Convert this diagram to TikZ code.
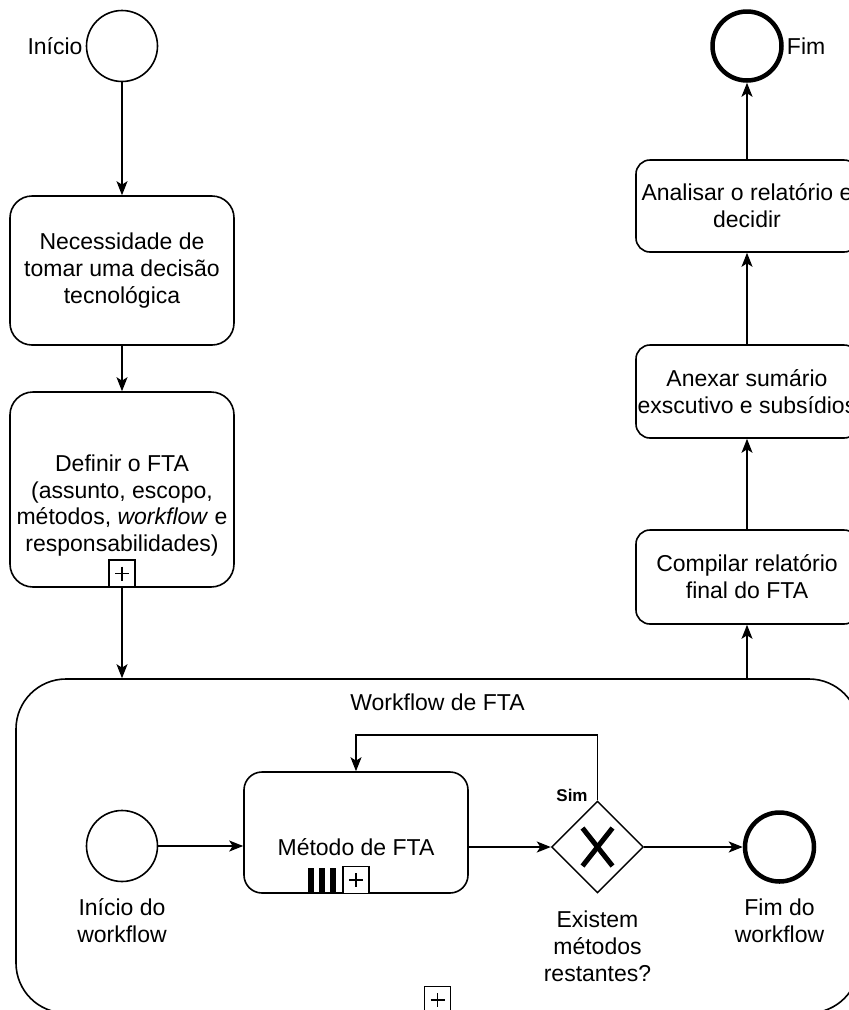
\documentclass[tikz,border=0pt]{standalone}
\usepackage{fontspec}
\setmainfont{Liberation Sans}
\usetikzlibrary{arrows.meta,shapes.geometric}

\begin{document}
\begin{tikzpicture}[x=1pt,y=-1pt,
  every node/.style={font=\fontsize{23}{26.8}\selectfont, align=center, inner sep=0pt},
  txt/.style={},
  task/.style={draw, line width=1.6pt, fill=white},
  startev/.style={draw, circle, line width=1.6pt, minimum size=71pt, fill=white},
  endev/.style={draw, circle, line width=4.5pt, minimum size=69pt, fill=white},
  plusbox/.style={draw, line width=1.4pt, minimum width=26pt, minimum height=27pt, fill=white,
    path picture={\draw[line width=1.4pt] (path picture bounding box.center) +(-7,0) -- +(7,0)
      (path picture bounding box.center) +(0,-7) -- +(0,7);}},
  bar/.style={fill=black, minimum width=6pt, minimum height=25pt},
  arr/.style={line width=1.8pt, -{Stealth[length=14pt,width=11pt,inset=3.5pt]}},
  flow/.style={line width=1.8pt}
]
\useasboundingbox (0,0) rectangle (849,1010);
\clip (0,0) rectangle (849,1010);

% outer process: start, preparation tasks
\node[startev] (start) at (122,46) {};
\node[anchor=east] (startlbl) at ([xshift=-3pt]start.west) {Início};

\node[task, rounded corners=22pt, minimum width=224pt, minimum height=149pt] (need) at (122,270.5)
  {Necessidade de\\tomar uma decisão\\tecnológica};

\node[task, rounded corners=23pt, minimum width=224pt, minimum height=195pt] (def) at (122,489.5) {};
\node[txt] (deflbl) at (122,505.5)
  {Definir o FTA\\(assunto, escopo,\\métodos, \textit{workflow} e\\responsabilidades)};
\node[plusbox] (defplus) at (122,573.5) {};

% collapsed workflow sub-process
\node[task, rounded corners=50pt, minimum width=843pt, minimum height=334pt] (wf) at (437.5,846) {};
\node[txt] (wflbl) at (437.5,702) {Workflow de FTA};
\node[plusbox] (wfplus) at (437.5,1000) {};

% inner workflow
\node[startev] (wstart) at (122,846) {};
\node[txt] (wstartlbl) at (122,921) {Início do\\workflow};

\node[task, rounded corners=18pt, minimum width=224pt, minimum height=121pt] (metodo) at (356,832.5) {};
\node[txt] (metodolbl) at (356,847) {Método de FTA};
\node[bar] (bar1) at (311,880.5) {};
\node[bar] (bar2) at (322,880.5) {};
\node[bar] (bar3) at (333,880.5) {};
\node[plusbox] (metplus) at (356,880) {};

\node[draw, diamond, aspect=1, line width=1.4pt, minimum width=92pt, minimum height=92pt, fill=white] (gw) at (597.5,847) {};
\draw[line width=5pt] (gw.center) +(-15,-19) -- +(15,19);
\draw[line width=5pt] (gw.center) +(15,-19) -- +(-15,19);
\node[font=\fontsize{17}{20}\selectfont\bfseries] (simlbl) at (572,795) {Sim};
\node[txt] (gwlbl) at (597.5,946) {Existem\\métodos\\restantes?};

\node[endev] (wend) at (779.5,847) {};
\node[txt] (wendlbl) at (779.5,921) {Fim do\\workflow};

% closing tasks
\node[task, rounded corners=14pt, minimum width=222pt, minimum height=94pt] (comp) at (747,577)
  {Compilar relatório\\final do FTA};
\node[task, rounded corners=14pt, minimum width=222pt, minimum height=93pt] (anx) at (747,391.5)
  {Anexar sumário\\exscutivo e subsídios};
\node[task, rounded corners=14pt, minimum width=222pt, minimum height=92pt] (ana) at (747,206)
  {Analisar o relatório e\\decidir};

\node[endev] (end) at (747,46) {};
\node[anchor=west] (endlbl) at ([xshift=3pt]end.east) {Fim};

% sequence flows
\draw[arr] (start) -- (need);
\draw[arr] (need) -- (def);
\draw[arr] (def.south) -- (def.south |- wf.north);
\draw[arr] (wf.north -| comp) -- (comp.south);
\draw[arr] (comp) -- (anx);
\draw[arr] (anx) -- (ana);
\draw[arr] (ana) -- (end);

\draw[arr] (wstart.east) -- (wstart.east -| metodo.west);
\draw[arr] (gw.west -| metodo.east) -- (gw.west);
\draw[arr] (gw.east) -- (wend.west);
\coordinate (looptop) at (0,735);
\draw[arr] (gw.north) -- (gw.north |- looptop) -| (metodo.north);
\end{tikzpicture}
\end{document}
